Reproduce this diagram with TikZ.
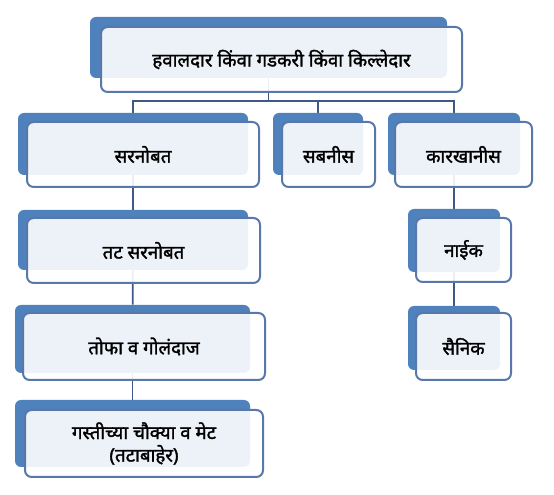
\documentclass[tikz,border=0pt]{standalone}
\usepackage{fontspec}
\newfontfamily\devfont[Script=Devanagari, FakeBold=1.6]{Noto Sans}
\usetikzlibrary{backgrounds}
\definecolor{backblue}{HTML}{4F81BD}
\definecolor{cardline}{HTML}{5878AA}
\definecolor{linkline}{HTML}{3E5A84}

\begin{document}
\begin{tikzpicture}[x=0.75pt, y=-0.75pt,
    box/.style 2 args={minimum width=#1*0.75pt, minimum height=#2*0.75pt},
    back/.style={fill=backblue, rounded corners=4.5pt, inner sep=0pt},
    card/.style={draw=cardline, line width=1.5pt, fill=white, fill opacity=0.9, text opacity=1, rounded corners=5pt, inner sep=0pt, align=center, font=\devfont\fontsize{14}{17}\selectfont},
    link/.style={draw=linkline, line width=1.3pt}
]
\useasboundingbox (0,0) rectangle (554,495);

% top
\node[back, box={357}{61}] (top) at (268.5,47.5) {};
\node[card, box={361}{65}] (topt) at (281.5,59.5) {हवालदार किंवा गडकरी किंवा किल्लेदार};

% second row
\node[back, box={230}{62}] (sar) at (133,144) {};
\node[card, box={232}{65}] (sart) at (143,154.5) {सरनोबत};
\node[back, box={90}{62}] (sab) at (318,144) {};
\node[card, box={93}{65}] (sabt) at (328.5,154.5) {सबनीस};
\node[back, box={132}{62}] (kar) at (454,144) {};
\node[card, box={137}{65}] (kart) at (463.5,154.5) {कारखानीस};

% left column
\node[back, box={230}{60}] (tat) at (133,240) {};
\node[card, box={233}{65}] (tatt) at (143.5,250.5) {तट सरनोबत};
\node[back, box={235}{68}] (tofa) at (132.5,339) {};
\node[card, box={242}{67}] (tofat) at (144,346.5) {तोफा व गोलंदाज};
\node[back, box={235}{67}] (gasti) at (132.5,433.5) {};
\node[card, box={238}{67}] (gastit) at (144,443.5) {गस्तीच्या चौक्या व मेट\\(तटाबाहेर)};

% right column
\node[back, box={92}{63}] (naik) at (454,240.5) {};
\node[card, box={95}{64}] (naikt) at (463.5,250) {नाईक};
\node[back, box={92}{64}] (sainik) at (454,338) {};
\node[card, box={95}{67}] (sainikt) at (463.5,346.5) {सैनिक};

\coordinate (bus) at (0,101);
\begin{scope}[on background layer]
\fill[white] (0,0) rectangle (554,495);
\draw[link] (top) -- (top |- bus) -| (sar);
\draw[link] (top |- bus) -| (sab);
\draw[link] (top |- bus) -| (kar);
\draw[link] (sar) -- (tat);
\draw[link] (tat) -- (tofa);
\draw[link] (tofa) -- (gasti);
\draw[link] (kar) -- (naik);
\draw[link] (naik) -- (sainik);
\end{scope}
\end{tikzpicture}
\end{document}
